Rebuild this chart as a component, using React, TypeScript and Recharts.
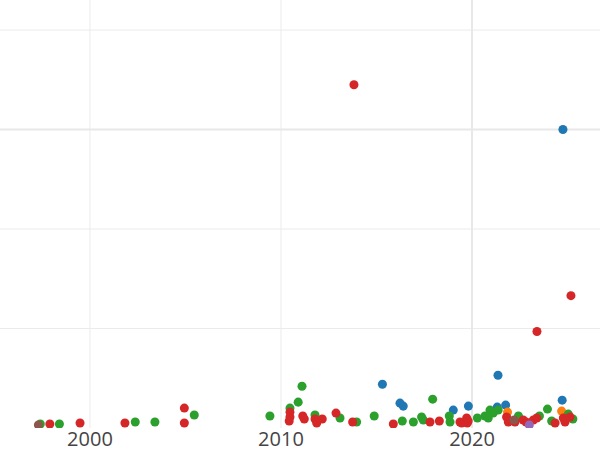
import React from 'react';
import {
  ScatterChart,
  Scatter,
  XAxis,
  YAxis,
  CartesianGrid,
  ReferenceLine,
} from 'recharts';

// year ticks shown on the x axis
const yearTicks = [2000, 2010, 2020];
const valueTicks = [100, 200, 300, 400];

const blueYears = [2024.76, 2021.36, 2015.31, 2024.72, 2016.23, 2016.4, 2019.02, 2019.81, 2021.32, 2021.76];
const blueValues = [300, 53, 44, 28, 25, 22, 18, 22, 21, 23];

const orangeYears = [2021.86, 2024.69];
const orangeValues = [16, 17];

const greenYears = [
  1997.4, 1998.4, 2002.37, 2003.4, 2005.46, 2009.42, 2010.47, 2010.9, 2011.1, 2011.78,
  2013.09, 2013.96, 2014.88, 2016.35, 2016.93, 2017.36, 2017.45, 2017.94, 2018.81, 2018.85,
  2020.28, 2020.68, 2020.85, 2020.94, 2021.11, 2021.37, 2022.43, 2023.53, 2023.95, 2024.17,
  2025.04, 2025.28,
];
const greenValues = [
  4, 4, 6, 6, 13, 12, 20, 26, 42, 13,
  10, 6, 12, 7, 6, 11, 8, 29, 12, 6,
  10, 12, 10, 18, 15, 18, 12, 12, 19, 7,
  14, 9,
];

const redYears = [
  2013.82, 2025.18, 2023.4, 1997.9, 1999.48, 2001.83, 2004.94, 2004.94, 2010.47, 2010.47,
  2010.43, 2011.14, 2011.22, 2011.78, 2011.87, 2012.16, 2012.88, 2013.75, 2015.88, 2017.8,
  2018.29, 2019.37, 2019.46, 2019.72, 2019.75, 2019.8, 2021.81, 2021.9, 2022.25, 2022.68,
  2022.83, 2023.21, 2023.39, 2024.35, 2024.78, 2024.87, 2025.13,
];
const redValues = [
  345, 133, 97, 4, 5, 5, 20, 5, 16, 11,
  7, 12, 9, 9, 5, 9, 15, 6, 4, 6,
  7, 6, 5, 10, 5, 7, 11, 6, 6, 8,
  6, 8, 10, 5, 10, 6, 11,
];

const purpleYears = [2023.0];
const purpleValues = [3];

const brownYears = [1997.3, 2022.2];
const brownValues = [3, 8];

const zip = (xs: number[], ys: number[]) => xs.map((x, i) => ({ year: x, value: ys[i] }));

const series = [
  { name: 'blue', color: '#1f77b4', data: zip(blueYears, blueValues) },
  { name: 'orange', color: '#ff7f0e', data: zip(orangeYears, orangeValues) },
  { name: 'green', color: '#2ca02c', data: zip(greenYears, greenValues) },
  { name: 'red', color: '#d62728', data: zip(redYears, redValues) },
  { name: 'purple', color: '#9467bd', data: zip(purpleYears, purpleValues) },
  { name: 'brown', color: '#8c564b', data: zip(brownYears, brownValues) },
];

export default function App() {
  return (
    <div style={{ position: 'absolute', left: 0, top: 0, width: 600, height: 450, overflow: 'hidden', background: '#fff' }}>
      <ScatterChart width={600} height={450} margin={{ top: 0, right: 0, bottom: 0, left: 0 }}>
        <CartesianGrid stroke="#ebebeb" horizontalValues={valueTicks} verticalValues={yearTicks} />
        <ReferenceLine x={2020} stroke="#e8e8e8" strokeWidth={2} />
        <ReferenceLine y={300} stroke="#e8e8e8" strokeWidth={2} />
        <XAxis
          type="number"
          dataKey="year"
          domain={[1995.29, 2026.7]}
          ticks={yearTicks}
          allowDataOverflow
          axisLine={false}
          tickLine={false}
          tickSize={4}
          tickMargin={0}
          height={22}
          tick={{ fill: '#444', fontSize: 20, fontFamily: 'Open Sans' }}
        />
        <YAxis type="number" dataKey="value" domain={[0, 430.2]} ticks={valueTicks} allowDataOverflow hide />
        {series.map((s) => (
          <Scatter key={s.name} name={s.name} data={s.data} fill={s.color} isAnimationActive={false} />
        ))}
      </ScatterChart>
    </div>
  );
}
